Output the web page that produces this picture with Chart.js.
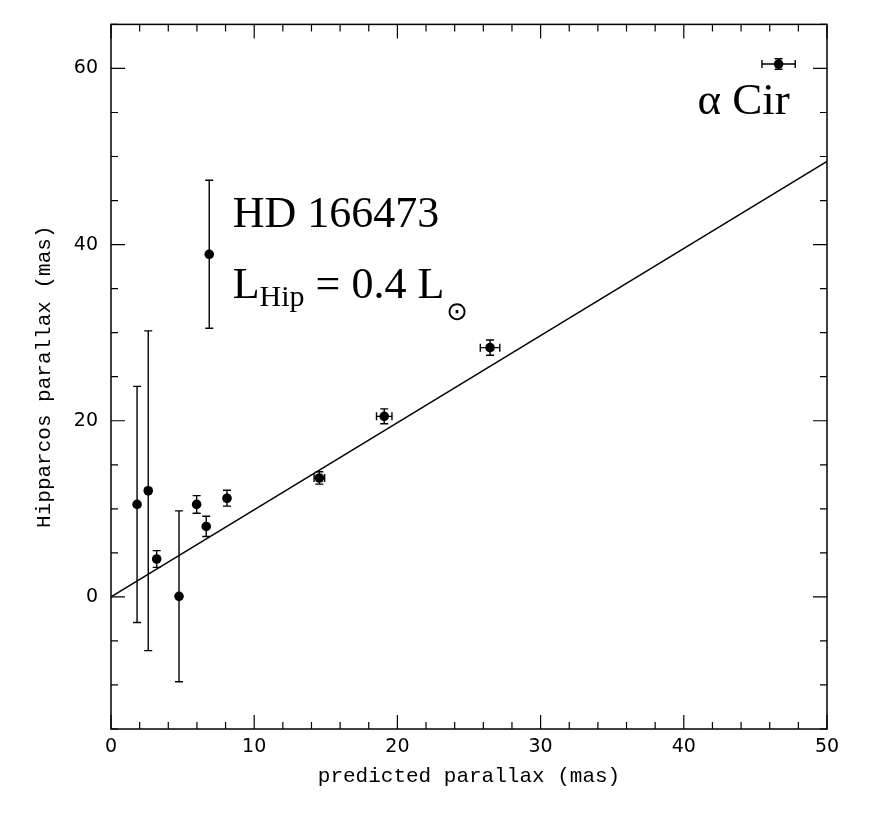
<!DOCTYPE html>
<html><head><meta charset="utf-8">
<script src="https://cdn.jsdelivr.net/npm/chart.js@4.4.1/dist/chart.umd.min.js"></script>
<style>html,body{margin:0;padding:0;background:#fff;} canvas{display:block}</style>
</head><body>
<canvas id="c" width="896" height="817"></canvas>
<script>
// ---- data ----
const predictedParallax = [1.82, 2.60, 3.19, 4.75, 5.98, 6.65, 8.10, 14.55, 19.08, 26.47, 46.62, 6.86];
const hipparcosParallax = [10.5, 12.05, 4.3, 0.07, 10.5, 8.0, 11.2, 13.5, 20.5, 28.3, 60.5, 38.9];
const hipparcosError    = [13.4, 18.15, 0.95, 9.7, 1.0, 1.15, 0.9, 0.7, 0.85, 0.87, 0.6, 8.4];
const predictedError    = [0, 0, 0, 0, 0, 0, 0, 0.37, 0.54, 0.68, 1.16, 0];
const fitLineX = [0, 50];
const fitLineY = [0, 49.45];
const xTickLabels = [0, 10, 20, 30, 40, 50];
const yTickLabels = [0, 20, 40, 60];
const xMinorStep = 2;
const yMinorStep = 5;
const xTitle = 'predicted parallax (mas)';
const yTitle = 'Hipparcos parallax (mas)';

const pointData = predictedParallax.map((x, i) => ({x, y: hipparcosParallax[i]}));
const lineData = fitLineX.map((x, i) => ({x, y: fitLineY[i]}));

const errorBarPlugin = {
  id: 'errorBars',
  afterDatasetsDraw(chart) {
    const {ctx, scales: {x, y}} = chart;
    ctx.save();
    ctx.strokeStyle = '#000';
    ctx.lineWidth = 1.4;
    const cap = 4;
    ctx.beginPath();
    predictedParallax.forEach((xv, i) => {
      const yv = hipparcosParallax[i];
      const px = x.getPixelForValue(xv), py = y.getPixelForValue(yv);
      const ey = hipparcosError[i], ex = predictedError[i];
      if (ey > 0) {
        const t = y.getPixelForValue(yv + ey), b = y.getPixelForValue(yv - ey);
        ctx.moveTo(px, t); ctx.lineTo(px, b);
        ctx.moveTo(px - cap, t); ctx.lineTo(px + cap, t);
        ctx.moveTo(px - cap, b); ctx.lineTo(px + cap, b);
      }
      if (ex > 0) {
        const l = x.getPixelForValue(xv - ex), r = x.getPixelForValue(xv + ex);
        ctx.moveTo(l, py); ctx.lineTo(r, py);
        ctx.moveTo(l, py - cap); ctx.lineTo(l, py + cap);
        ctx.moveTo(r, py - cap); ctx.lineTo(r, py + cap);
      }
    });
    ctx.stroke();
    ctx.restore();
  }
};

const framePlugin = {
  id: 'frame',
  afterDraw(chart) {
    const {ctx, chartArea: a, scales: {x, y}} = chart;
    ctx.save();
    ctx.strokeStyle = '#000';
    ctx.lineWidth = 1.5;
    ctx.strokeRect(a.left, a.top, a.right - a.left, a.bottom - a.top);
    ctx.lineWidth = 1.2;
    ctx.beginPath();
    const nx = Math.round((x.max - x.min) / xMinorStep);
    for (let k = 0; k <= nx; k++) {
      const v = x.min + k * xMinorStep;
      const px = x.getPixelForValue(v);
      const len = xTickLabels.includes(v) ? 14 : 7;
      ctx.moveTo(px, a.bottom); ctx.lineTo(px, a.bottom - len);
      ctx.moveTo(px, a.top); ctx.lineTo(px, a.top + len);
    }
    const ny = Math.round((y.max - y.min) / yMinorStep);
    for (let k = 0; k <= ny; k++) {
      const v = y.min + k * yMinorStep;
      const py = y.getPixelForValue(v);
      const len = yTickLabels.includes(v) ? 14 : 7;
      ctx.moveTo(a.left, py); ctx.lineTo(a.left + len, py);
      ctx.moveTo(a.right, py); ctx.lineTo(a.right - len, py);
    }
    ctx.stroke();
    ctx.restore();
  }
};

const annotationPlugin = {
  id: 'annotations',
  afterDraw(chart) {
    const {ctx, scales: {x, y}} = chart;
    ctx.save();
    ctx.fillStyle = '#000';
    ctx.textBaseline = 'alphabetic';
    ctx.textAlign = 'left';
    const big = '44px "Liberation Serif"';
    const sub = '30px "Liberation Serif"';
    // HD 166473
    let px = x.getPixelForValue(8.5), py = y.getPixelForValue(42.0);
    ctx.font = big;
    ctx.fillText('HD 166473', px, py);
    // L_Hip = 0.4 L_sun
    py = y.getPixelForValue(33.9);
    ctx.font = big;
    ctx.fillText('L', px, py);
    px += ctx.measureText('L').width;
    ctx.font = sub;
    ctx.fillText('Hip', px, py + 8);
    px += ctx.measureText('Hip').width;
    ctx.font = big;
    ctx.fillText(' = 0.4 L', px, py);
    px += ctx.measureText(' = 0.4 L').width;
    ctx.font = '26px "DejaVu Sans"';
    ctx.fillText('\u2299', px + 2, py + 22);
    // alpha Cir
    ctx.font = '45px "Liberation Serif"';
    ctx.fillText('\u03B1 Cir', x.getPixelForValue(40.95), y.getPixelForValue(54.8));
    ctx.restore();
  }
};

new Chart(document.getElementById('c'), {
  data: {
    datasets: [
      {type: 'line', data: lineData, borderColor: '#000', borderWidth: 1.4, pointRadius: 0, fill: false, tension: 0, order: 2},
      {type: 'scatter', data: pointData, backgroundColor: '#000', borderColor: '#000', borderWidth: 0, pointRadius: 4.8, order: 1}
    ]
  },
  options: {
    responsive: false,
    animation: false,
    devicePixelRatio: 1,
    layout: {padding: {left: 0, right: 69, top: 24, bottom: 0}},
    plugins: {legend: {display: false}, tooltip: {enabled: false}},
    scales: {
      x: {
        type: 'linear', min: 0, max: 50,
        afterBuildTicks: s => { s.ticks = xTickLabels.map(v => ({value: v})); },
        afterFit: s => { s.height = 88; },
        grid: {display: false, drawTicks: false},
        border: {display: false},
        ticks: {color: '#000', font: {family: '"DejaVu Sans"', size: 19}, padding: 7, maxRotation: 0, autoSkip: false},
        title: {display: true, text: xTitle, color: '#000', font: {family: '"Liberation Mono"', size: 21}, padding: {top: 0, bottom: 28}}
      },
      y: {
        type: 'linear', min: -15, max: 65,
        afterBuildTicks: s => { s.ticks = yTickLabels.map(v => ({value: v})); },
        afterFit: s => { s.width = 111; },
        grid: {display: false, drawTicks: false},
        border: {display: false},
        ticks: {color: '#000', font: {family: '"DejaVu Sans"', size: 19}, padding: 13, autoSkip: false},
        title: {display: true, text: yTitle, color: '#000', font: {family: '"Liberation Mono"', size: 21}, padding: {top: 32, bottom: 0}}
      }
    }
  },
  plugins: [errorBarPlugin, framePlugin, annotationPlugin]
});
</script>
</body></html>
